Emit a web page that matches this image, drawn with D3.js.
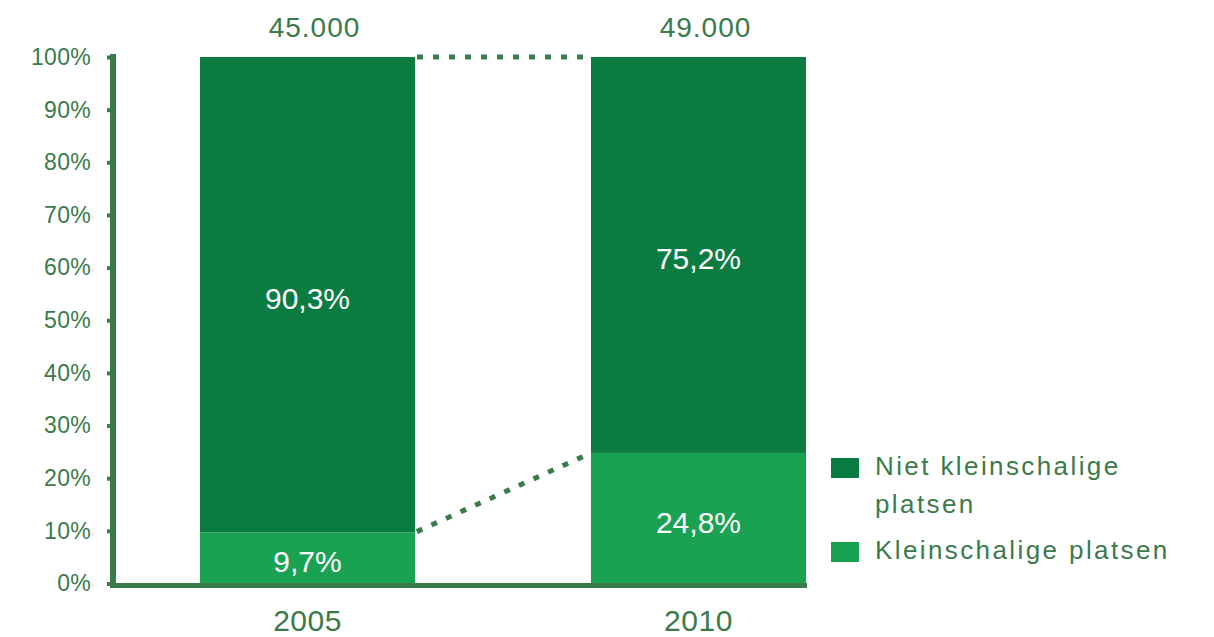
<!DOCTYPE html>
<html>
<head>
<meta charset="utf-8">
<script src="https://cdn.jsdelivr.net/npm/d3@7"></script>
<style>
  html, body { margin: 0; padding: 0; background: #fff; }
  svg { display: block; font-family: "Liberation Sans", Arial, Helvetica, sans-serif; }
</style>
</head>
<body>
<svg id="chart" width="1214" height="637"></svg>
<script>
// Share of small-scale vs. other places, 2005 and 2010
const years = ["2005", "2010"];
const totals = ["45.000", "49.000"];
const kleinschalig = [9.7, 24.8];
const nietKleinschalig = [90.3, 75.2];
const tickValues = [0, 10, 20, 30, 40, 50, 60, 70, 80, 90, 100];

const darkGreen = "#0a7b41";
const lightGreen = "#1aa253";
const ink = "#3b7a4b";

const svg = d3.select("#chart");

const y = d3.scaleLinear().domain([0, 100]).range([583.5, 57]);
const x = d3.scaleBand().domain(years).range([200, 806]).paddingInner(0.45).paddingOuter(0);

const fmt = v => d3.format(".1f")(v).replace(".", ",") + "%";

const rows = years.map((yr, i) => ({
  year: yr, total: totals[i],
  segs: [
    { key: "klein", lo: 0, hi: kleinschalig[i], color: lightGreen },
    { key: "niet", lo: kleinschalig[i], hi: kleinschalig[i] + nietKleinschalig[i], color: darkGreen }
  ]
}));

// Stacked bars
const bars = svg.append("g").selectAll("g").data(rows).join("g");
bars.selectAll("rect").data(d => d.segs.map(s => ({ ...s, year: d.year }))).join("rect")
  .attr("x", d => x(d.year))
  .attr("width", x.bandwidth())
  .attr("y", d => y(d.hi))
  .attr("height", d => y(d.lo) - y(d.hi))
  .attr("fill", d => d.color);

// Segment value labels
bars.selectAll("text.val").data(d => d.segs.map(s => ({ ...s, year: d.year }))).join("text")
  .attr("class", "val")
  .attr("x", d => x(d.year) + x.bandwidth() / 2)
  .attr("y", d => (y(d.lo) + y(d.hi)) / 2 + 4)
  .attr("text-anchor", "middle")
  .attr("dominant-baseline", "central")
  .attr("fill", "#fff")
  .attr("font-size", 30)
  .text(d => fmt(d.hi - d.lo));

// Totals above bars
bars.append("text")
  .attr("x", d => x(d.year) + x.bandwidth() / 2 + 7)
  .attr("y", 37)
  .attr("text-anchor", "middle")
  .attr("fill", ink)
  .attr("font-size", 28)
  .attr("letter-spacing", 1)
  .text(d => d.total);

// Dotted connectors between segment tops
const x0 = x(years[0]) + x.bandwidth();
const x1 = x(years[1]);
const connectors = [
  [kleinschalig[0] + nietKleinschalig[0], kleinschalig[1] + nietKleinschalig[1]],
  [kleinschalig[0], kleinschalig[1]]
];
svg.append("g").selectAll("line").data(connectors).join("line")
  .attr("x1", x0).attr("x2", x1)
  .attr("y1", d => y(d[0])).attr("y2", d => y(d[1]))
  .attr("stroke", ink)
  .attr("stroke-width", 5)
  .attr("stroke-dasharray", "6 10")
  .attr("stroke-dashoffset", -2);

// Y axis
const yAxis = svg.append("g")
  .attr("transform", "translate(110,0)")
  .call(d3.axisLeft(y).tickValues(tickValues).tickSize(3).tickPadding(16).tickFormat(d => d + "%"));
yAxis.select(".domain").remove();
yAxis.selectAll(".tick line").attr("stroke", ink).attr("stroke-width", 4);
yAxis.selectAll(".tick text")
  .attr("fill", ink)
  .attr("font-size", 23)
  .attr("font-family", "Liberation Sans, Arial, sans-serif")
  .attr("letter-spacing", 0.3);

svg.append("line")
  .attr("x1", 113).attr("x2", 113)
  .attr("y1", 54).attr("y2", 588)
  .attr("stroke", ink).attr("stroke-width", 6);

// X axis baseline and year labels
svg.append("line")
  .attr("x1", 110).attr("x2", x(years[1]) + x.bandwidth() + 1)
  .attr("y1", 585.5).attr("y2", 585.5)
  .attr("stroke", ink).attr("stroke-width", 5);

svg.append("g").selectAll("text").data(years).join("text")
  .attr("x", d => x(d) + x.bandwidth() / 2)
  .attr("y", 631)
  .attr("text-anchor", "middle")
  .attr("fill", ink)
  .attr("font-size", 30)
  .attr("letter-spacing", 0.5)
  .text(d => d);

// Legend
const legend = svg.append("g").attr("transform", "translate(831,0)");
const legendItems = [
  { lines: ["Niet kleinschalige", "platsen"], color: darkGreen, top: 458 },
  { lines: ["Kleinschalige platsen"], color: lightGreen, top: 542 }
];
legendItems.forEach(it => {
  legend.append("rect")
    .attr("x", 0).attr("y", it.top)
    .attr("width", 28).attr("height", 20)
    .attr("fill", it.color);
  const t = legend.append("text")
    .attr("x", 44).attr("y", it.top + 17)
    .attr("fill", ink)
    .attr("font-size", 26)
    .attr("letter-spacing", 2.4);
  it.lines.forEach((ln, j) => {
    t.append("tspan").attr("x", 44).attr("dy", j === 0 ? 0 : 38).text(ln);
  });
});
</script>
</body>
</html>
